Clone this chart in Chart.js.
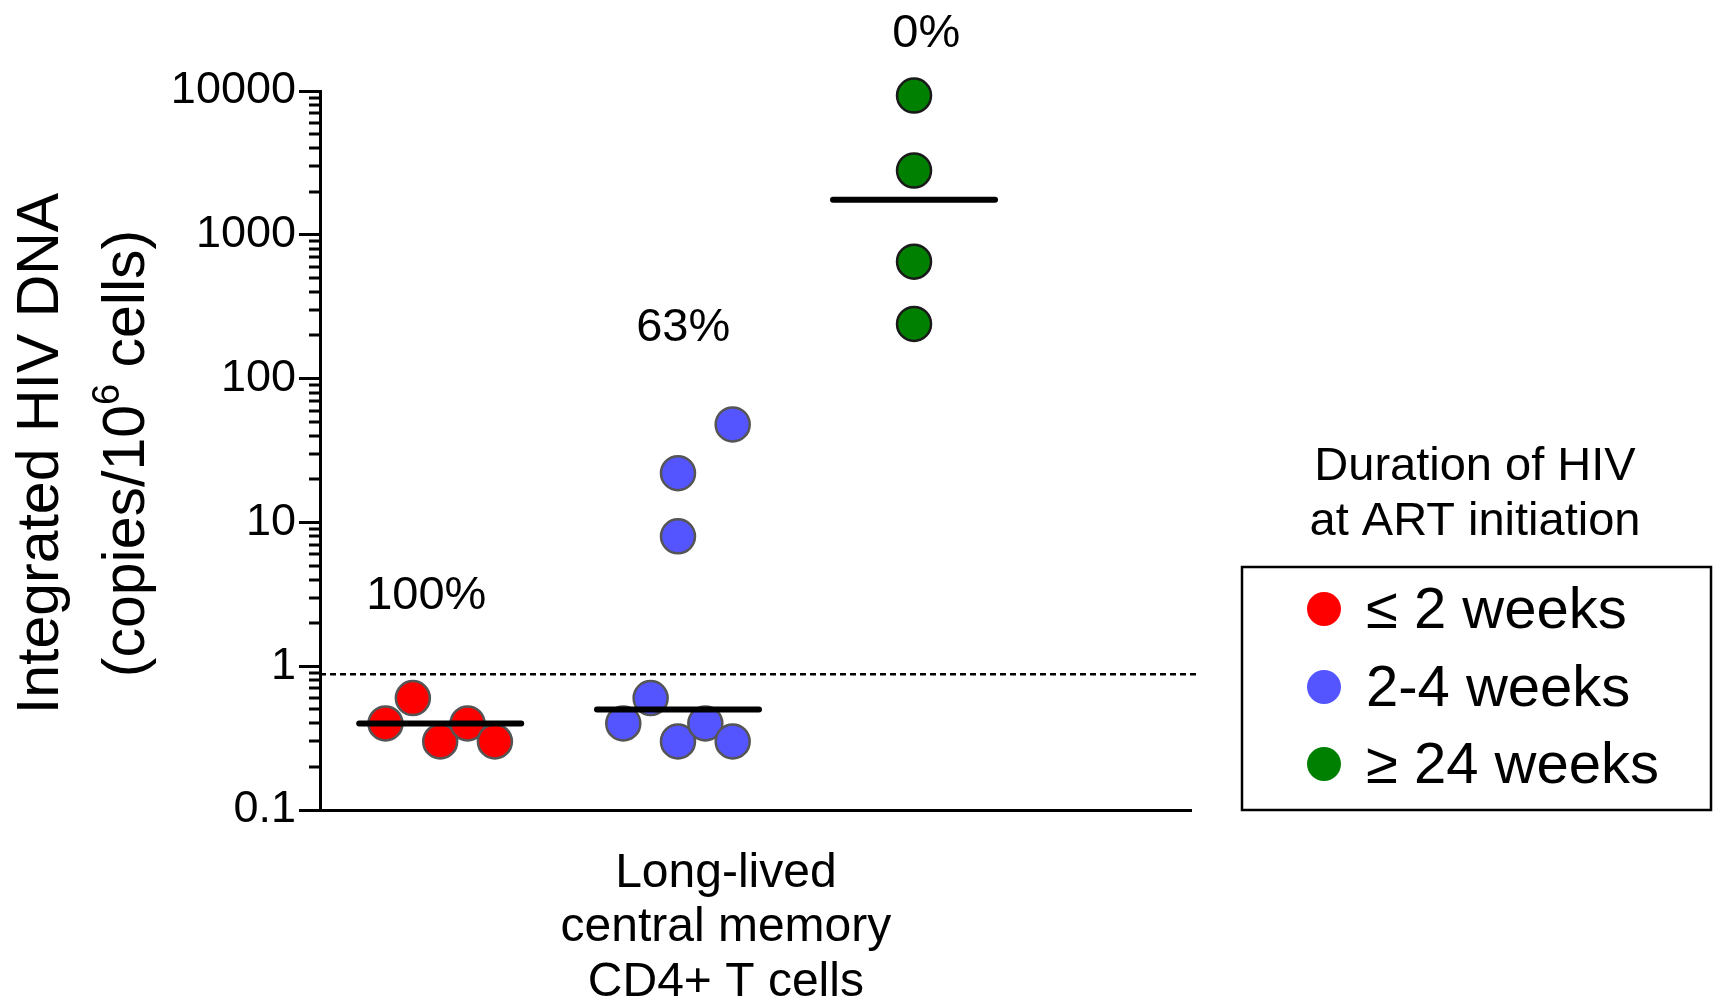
<!DOCTYPE html>
<html>
<head>
<meta charset="utf-8">
<script src="https://cdn.jsdelivr.net/npm/chart.js@4/dist/chart.umd.min.js"></script>
<style>
  html, body { margin: 0; padding: 0; background: #fff; }
  canvas { display: block; }
</style>
</head>
<body>
<canvas id="c" width="1714" height="1003"></canvas>
<script>
// Integrated HIV DNA in long-lived central memory CD4+ T cells,
// grouped by duration of HIV infection at ART initiation.
const groupNames = ['\u2264 2 weeks', '2-4 weeks', '\u2265 24 weeks'];
const groupColors = ['#ff0000', '#5555ff', '#008000'];
const groupOutlines = ['#555555', '#555555', '#1a1a1a'];

const earlyValues = [0.4, 0.6, 0.3, 0.4, 0.3];          // <= 2 weeks
const earlySlots  = [-2, -1, 0, 1, 2];
const midValues   = [0.4, 0.6, 0.3, 0.4, 0.3, 8, 22, 48]; // 2-4 weeks
const midSlots    = [-2, -1, 0, 1, 2, 0, 0, 2];
const lateValues  = [9300, 2800, 650, 240];             // >= 24 weeks
const lateSlots   = [0, 0, 0, 0];

const medianValues = [0.4, 0.5, 1750];
const percentLabels = ['100%', '63%', '0%'];
const detectionLimit = 0.88;

const yTickLabels = ['0.1', '1', '10', '100', '1000', '10000'];
const categoryLabel = ['Long-lived', 'central memory', 'CD4+ T cells'];
const legendTitle = ['Duration of HIV', 'at ART initiation'];
const yTitle = ['Integrated HIV DNA', '(copies/10', '6', ' cells)'];

// Layout on the hidden horizontal axis (0..10)
const groupCenters = [1.38, 4.11, 6.82];
const slotStep = 0.314;
const medianHalfWidth = 0.93;
const categoryTickAt = 4.66;
const percentAnchors = [ {x: 1.22, y: 3.07}, {x: 4.17, y: 223}, {x: 6.96, y: 25000} ];

const FONT = "'Liberation Sans', Arial, Helvetica, sans-serif";

function points(values, slots, g) {
  return values.map((v, i) => ({ x: groupCenters[g] + slots[i] * slotStep, y: v }));
}

const valueSets = [[earlyValues, earlySlots], [midValues, midSlots], [lateValues, lateSlots]];

const datasets = [];
valueSets.forEach(([vals, slots], g) => {
  datasets.push({
    type: 'scatter',
    label: groupNames[g],
    data: points(vals, slots, g),
    backgroundColor: groupColors[g],
    borderColor: groupOutlines[g],
    borderWidth: 2.5,
    pointRadius: 17,
    pointHoverRadius: 17,
    clip: false,
    order: 2
  });
});
medianValues.forEach((m, g) => {
  datasets.push({
    type: 'line',
    label: 'median ' + groupNames[g],
    data: [{ x: groupCenters[g] - medianHalfWidth, y: m }, { x: groupCenters[g] + medianHalfWidth, y: m }],
    borderColor: '#000',
    borderWidth: 6,
    borderCapStyle: 'round',
    pointRadius: 0,
    order: 0
  });
});
datasets.push({
  type: 'line',
  label: 'detection limit',
  data: [{ x: 0, y: detectionLimit }, { x: 10.08, y: detectionLimit }],
  borderColor: '#000',
  borderWidth: 2.5,
  borderDash: [6, 4],
  pointRadius: 0,
  clip: false,
  order: 1
});

// Minor ticks on the log axis and the y-axis title with its superscript
const axisExtras = {
  id: 'axisExtras',
  afterDraw(chart) {
    const ctx = chart.ctx;
    const ys = chart.scales.y;
    const left = chart.chartArea.left;
    ctx.save();
    ctx.strokeStyle = '#000';
    ctx.lineWidth = 3;
    ys.ticks.forEach(t => {
      if (t.major) return;
      const py = Math.round(ys.getPixelForValue(t.value));
      ctx.beginPath();
      ctx.moveTo(left - 11, py);
      ctx.lineTo(left, py);
      ctx.stroke();
    });

    // rotated two-line title
    ctx.fillStyle = '#000';
    ctx.textBaseline = 'alphabetic';
    const cy = (chart.chartArea.top + chart.chartArea.bottom) / 2 + 3;
    ctx.translate(0, cy);
    ctx.rotate(-Math.PI / 2);
    ctx.textAlign = 'center';
    ctx.font = '59px ' + FONT;
    ctx.fillText(yTitle[0], 0, 58);
    // second line: "(copies/10" + superscript "6" + " cells)"
    const big = '59px ' + FONT, small = '38px ' + FONT;
    ctx.font = big;
    const w1 = ctx.measureText(yTitle[1]).width;
    const w3 = ctx.measureText(yTitle[3]).width;
    ctx.font = small;
    const w2 = ctx.measureText(yTitle[2]).width;
    let x = -(w1 + w2 + w3) / 2;
    ctx.textAlign = 'left';
    ctx.font = big;
    ctx.fillText(yTitle[1], x, 144);
    x += w1;
    ctx.font = small;
    ctx.fillText(yTitle[2], x, 119);
    x += w2;
    ctx.font = big;
    ctx.fillText(yTitle[3], x, 144);
    ctx.restore();
  }
};

// Percentage annotations and the boxed legend
const annotations = {
  id: 'annotations',
  afterDraw(chart) {
    const ctx = chart.ctx;
    const xs = chart.scales.x, ys = chart.scales.y;
    ctx.save();
    ctx.fillStyle = '#000';
    ctx.textAlign = 'center';
    ctx.textBaseline = 'middle';
    ctx.font = '47px ' + FONT;
    percentLabels.forEach((txt, i) => {
      const a = percentAnchors[i];
      ctx.fillText(txt, xs.getPixelForValue(a.x), ys.getPixelForValue(a.y));
    });

    // legend title
    ctx.font = '47px ' + FONT;
    ctx.fillText(legendTitle[0], 1475, 467);
    ctx.fillText(legendTitle[1], 1475, 522);

    // legend box
    ctx.lineWidth = 2.5;
    ctx.strokeStyle = '#000';
    ctx.strokeRect(1242, 567, 469, 243);

    // legend entries
    const rows = [609, 687, 764];
    ctx.textAlign = 'left';
    ctx.font = '58px ' + FONT;
    groupNames.forEach((name, i) => {
      ctx.beginPath();
      ctx.arc(1324, rows[i], 17, 0, Math.PI * 2);
      ctx.fillStyle = groupColors[i];
      ctx.fill();
      ctx.fillStyle = '#000';
      ctx.fillText(name, 1366, rows[i] + 3);
    });
    ctx.restore();
  }
};

new Chart(document.getElementById('c'), {
  data: { datasets },
  options: {
    responsive: false,
    animation: false,
    devicePixelRatio: 1,
    layout: { padding: { top: 91, right: 523, bottom: 0, left: 0 } },
    plugins: { legend: { display: false }, tooltip: { enabled: false } },
    scales: {
      x: {
        type: 'linear',
        min: 0,
        max: 10,
        afterBuildTicks: s => { s.ticks = [{ value: categoryTickAt }]; },
        afterFit: s => { s.height = 193; },
        ticks: {
          autoSkip: false,
          maxRotation: 0,
          padding: 36,
          color: '#000',
          font: { family: FONT, size: 48, lineHeight: 1.14 },
          callback: () => categoryLabel
        },
        grid: { display: false, drawTicks: false },
        border: { display: true, color: '#000', width: 3 }
      },
      y: {
        type: 'logarithmic',
        min: 0.1,
        max: 10000,
        afterBuildTicks: s => {
          const t = [];
          for (let e = -1; e < 4; e++) {
            for (let m = 1; m < 10; m++) {
              t.push({ value: Number((m * Math.pow(10, e)).toPrecision(6)), major: m === 1 });
            }
          }
          t.push({ value: 10000, major: true });
          s.ticks = t;
        },
        afterFit: s => { s.width = 320; },
        ticks: {
          autoSkip: false,
          padding: 3,
          color: '#000',
          font: { family: FONT, size: 45 },
          callback: (v, i, ts) => ts[i] && ts[i].major ? yTickLabels[Math.round(Math.log10(v)) + 1] : ''
        },
        grid: {
          drawOnChartArea: false,
          drawTicks: true,
          tickLength: 21,
          tickWidth: 3,
          tickColor: c => (c.tick && c.tick.major) ? '#000' : 'rgba(0,0,0,0)'
        },
        border: { display: true, color: '#000', width: 3 }
      }
    }
  },
  plugins: [axisExtras, annotations]
});
</script>
</body>
</html>
